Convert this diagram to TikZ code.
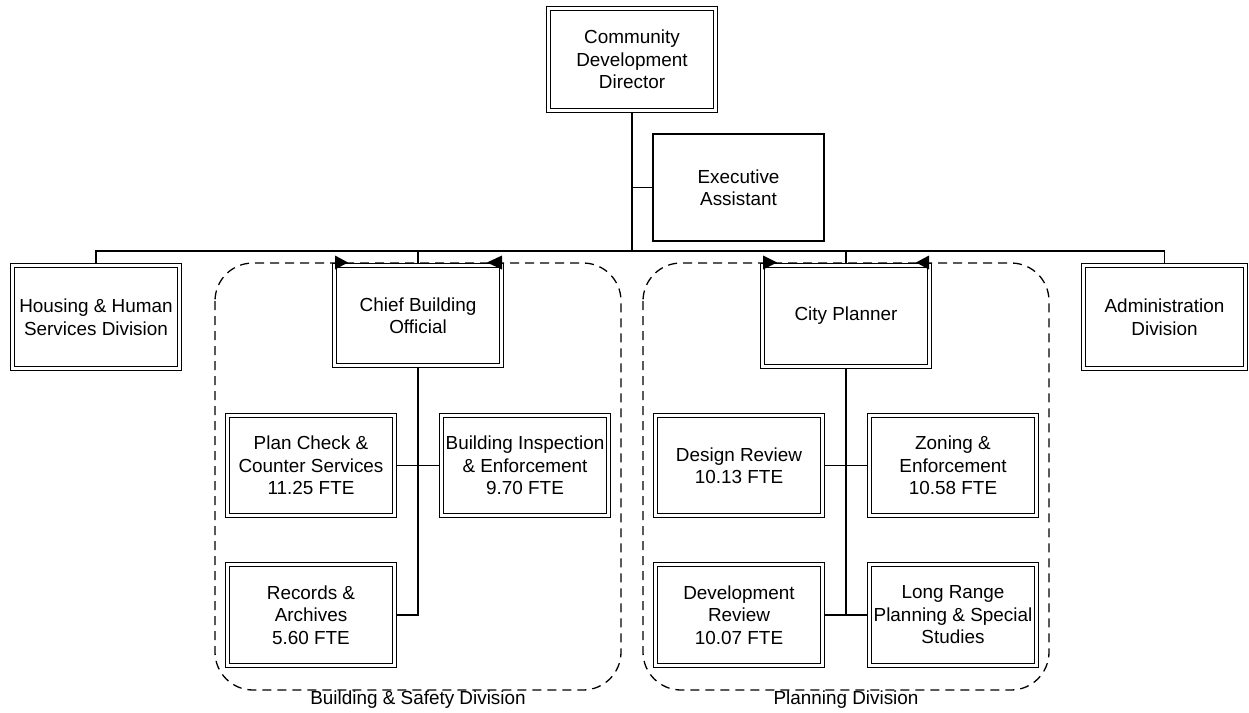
\documentclass[tikz,border=0pt]{standalone}
\usepackage{fontspec}
\setmainfont{Liberation Sans}
\usetikzlibrary{backgrounds}
\begin{document}
\begin{tikzpicture}[x=1pt,y=-1pt,
  every node/.style={font=\fontsize{18.9}{22.5}\selectfont, align=center, inner sep=0pt},
  unit/.style={draw, line width=1.3pt, double=white, double distance=2.6pt, fill=white,
    minimum width=167pt, minimum height=100pt},
  plainbox/.style={draw, line width=1.4pt, fill=white, minimum width=171pt, minimum height=107pt},
  link/.style={line width=1.5pt},
  frame/.style={dash pattern=on 9pt off 6pt, line width=1.3pt, rounded corners=38pt},
  tipmark/.style={fill=black}]
\useasboundingbox (0,0) rectangle (1249,712);

% top of the chart
\node[unit, minimum height=102pt] (dir) at (632,59.5) {Community\\Development\\Director};
\node[plainbox] (ea) at (738.5,187.5) {Executive\\Assistant};
\coordinate (bar) at (0,251);

% divisions
\node[unit, minimum height=103pt] (hous) at (96,317) {Housing \& Human\\Services Division};
\node[unit, minimum width=162pt, minimum height=103pt] (adm) at (1164.5,317) {Administration\\Division};
\node[unit] (cbo) at (418,315.5) {Chief Building\\Official};
\node[unit, minimum height=101pt] (cp) at (846,316) {City Planner};

% building & safety sections
\node[unit] (plan) at (311,465.5) {Plan Check \&\\Counter Services\\11.25 FTE};
\node[unit] (insp) at (525,465.5) {Building Inspection\\\& Enforcement\\9.70 FTE};
\node[unit, minimum height=101pt] (rec) at (311,615) {Records \&\\Archives\\5.60 FTE};

% planning sections
\node[unit] (design) at (739,465.5) {Design Review\\10.13 FTE};
\node[unit] (zoning) at (953,465.5) {Zoning \&\\Enforcement\\10.58 FTE};
\node[unit, minimum height=101pt] (devrev) at (739,615) {Development\\Review\\10.07 FTE};
\node[unit, minimum height=101pt] (longr) at (953,615) {Long Range\\Planning \& Special\\Studies};

% division captions
\node (bsd) at (418,699.5) {Building \& Safety Division};
\node (pld) at (846,699.5) {Planning Division};

\begin{scope}[on background layer]
  % dashed division frames
  \draw[frame] (215,263) rectangle (621,690);
  \draw[frame] (643,263) rectangle (1049,690);
  % reporting lines
  \draw[link] (dir.south) -- (dir.south |- bar);
  \draw[link] (ea.west) -- (ea.west -| dir.south);
  \draw[link, line width=1.7pt] (hous.north) -- (hous.north |- bar) -- (adm.north |- bar) -- (adm.north);
  \draw[link] (cbo.north) -- (cbo.north |- bar);
  \draw[link] (cp.north) -- (cp.north |- bar);
  \draw[link] (cbo.south) -- (cbo.south |- rec.east) -- (rec.east);
  \draw[link] (plan.east) -- (insp.west);
  \draw[link] (cp.south) -- (cp.south |- devrev.east);
  \draw[link] (design.east) -- (zoning.west);
  \draw[link] (devrev.east) -- (longr.west);
\end{scope}

% arrowheads where the frames meet the division heads
\fill[tipmark] (335,255.5) -- (348,262.5) -- (335,269.5) -- cycle;
\fill[tipmark] (502,255.5) -- (487,262.5) -- (502,269.5) -- cycle;
\fill[tipmark] (763,255.5) -- (777,262.5) -- (763,269.5) -- cycle;
\fill[tipmark] (929,255.5) -- (916,262.5) -- (929,269.5) -- cycle;
\end{tikzpicture}
\end{document}
